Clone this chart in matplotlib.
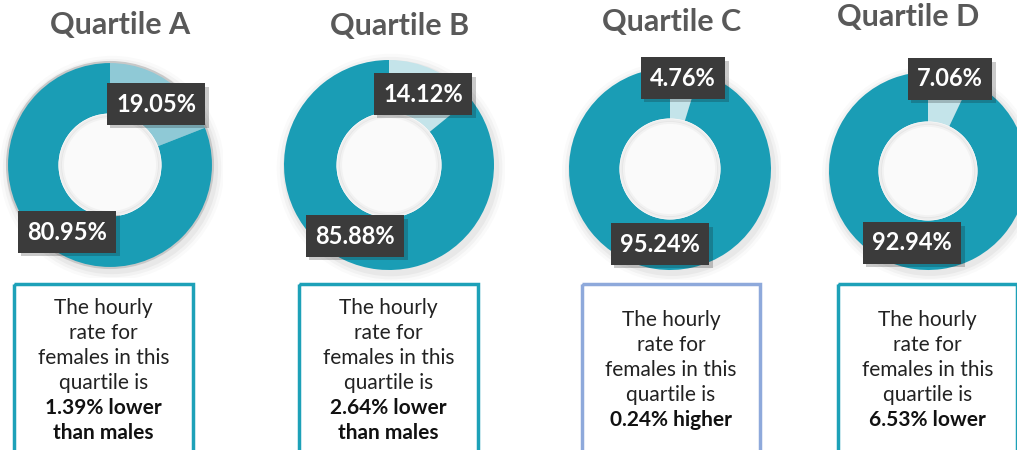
import matplotlib
matplotlib.use("Agg")
import matplotlib.pyplot as plt
from matplotlib.patches import Rectangle, Circle
import matplotlib.patheffects as pe

# data
quartiles = ["Quartile A", "Quartile B", "Quartile C", "Quartile D"]
small_share = [19.05, 14.12, 4.76, 7.06]
large_share = [80.95, 85.88, 95.24, 92.94]
gap_pct = [1.39, 2.64, 0.24, 6.53]
gap_dir = ["lower", "lower", "higher", "lower"]
gap_suffix = ["than males", "than males", "", ""]
intro_lines = ["The hourly", "rate for", "females in this", "quartile is"]

W, H = 1017, 450
fig = plt.figure(figsize=(W / 100, H / 100), dpi=100)
plt.rcParams["font.family"] = ["Lato", "DejaVu Sans"]

dark = "#1A9DB5"
light = ["#8FC9D6", "#C4E4EA", "#C4E4EA", "#C4E4EA"]

# layout in pixels (centre x, centre y, radius)
donuts = [(110, 165, 103), (389, 165, 105), (670, 169, 101), (928, 171, 99)]
titles_xy = [(120, 25), (400, 26), (672, 22), (908, 17)]
small_lbl = [(156, 104), (423, 94), (683, 78), (950, 79)]
large_lbl = [(67, 232), (355, 236), (660, 244), (912, 243)]
boxes = [(14, 193, "#1DA1B8"), (299, 478, "#1DA1B8"),
         (582, 760, "#8EA9DB"), (838, 1017, "#1DA1B8")]
text_top = [308, 308, 320, 320]

for i, (cx, cy, r) in enumerate(donuts):
    ax = fig.add_axes([(cx - 1.1 * r) / W, (H - cy - 1.1 * r) / H,
                       2.2 * r / W, 2.2 * r / H])
    # soft shadow
    for k, a in enumerate([0.04, 0.03, 0.02]):
        ax.add_patch(Circle((0.02, -0.03), 1.0 + 0.03 * (k + 1),
                            color="#000000", alpha=a, lw=0, zorder=0.2))
    ax.pie([small_share[i], large_share[i]], startangle=90, counterclock=False,
           colors=[light[i], dark], wedgeprops=dict(width=0.5, lw=0))
    ax.add_patch(Circle((0, 0), 0.5, color="#FAFAFA", lw=0, zorder=3))
    for k, a in enumerate([0.05, 0.03]):
        ax.add_patch(Circle((0, 0), 0.5 - 0.02 * (k + 1), fill=False,
                            ec="#000000", alpha=a, lw=2, zorder=3.5))
    if i == 0:
        ax.add_patch(Circle((0, 0), 1.0, fill=False, ec="#C8C8C8", lw=1.5, zorder=4))
    ax.set_xlim(-1.1, 1.1)
    ax.set_ylim(-1.1, 1.1)
    ax.set_aspect("equal")
    ax.axis("off")

ov = fig.add_axes([0, 0, 1, 1], zorder=10)
ov.set_xlim(0, W)
ov.set_ylim(H, 0)
ov.axis("off")
ov.patch.set_alpha(0)

shadow = [pe.SimplePatchShadow(offset=(2.5, -2.5), alpha=0.22), pe.Normal()]
for i in range(4):
    tx, ty = titles_xy[i]
    ov.text(tx, ty, quartiles[i], ha="center", va="center", fontsize=22,
            fontweight="bold", color="#595959")
    for (lx, ly), val in ((small_lbl[i], small_share[i]), (large_lbl[i], large_share[i])):
        t = ov.text(lx, ly, f"{val:.2f}%", ha="center", va="center",
                    fontsize=17, fontweight="bold", color="white",
                    bbox=dict(boxstyle="square,pad=0.4", fc="#3B3B3B", ec="none"))
        t.get_bbox_patch().set_path_effects(shadow)

    x0, x1, ec = boxes[i]
    ov.add_patch(Rectangle((x0, 284), x1 - x0, 200, fill=False, ec=ec, lw=2.5))
    xc = (x0 + x1) / 2
    y = text_top[i]
    for line in intro_lines:
        ov.text(xc, y, line, ha="center", va="center", fontsize=15, color="#222222")
        y += 25
    bold = [f"{gap_pct[i]:.2f}% {gap_dir[i]}"]
    if gap_suffix[i]:
        bold.append(gap_suffix[i])
    for line in bold:
        ov.text(xc, y, line, ha="center", va="center", fontsize=15,
                fontweight="bold", color="#111111")
        y += 25

fig.savefig("out.png", dpi=100)
